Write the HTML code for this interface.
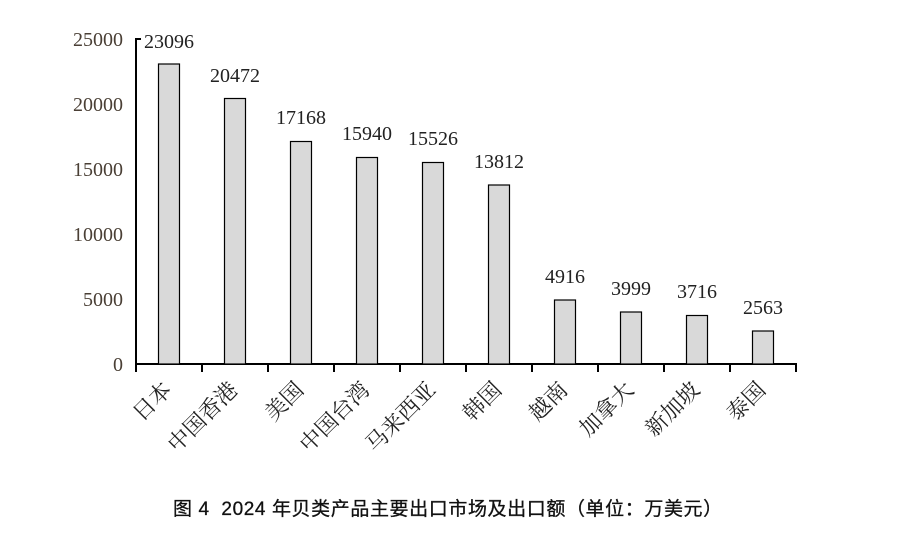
<!DOCTYPE html>
<html><head><meta charset="utf-8"><style>
body{margin:0;background:#fff;width:910px;height:552px;overflow:hidden}
</style></head><body>
<svg width="910" height="552" xmlns="http://www.w3.org/2000/svg">
<g font-family="Liberation Serif, Noto Serif CJK SC, serif" font-size="20" fill="#4a3f35" text-anchor="end">
<text x="123" y="371">0</text>
<text x="123" y="306">5000</text>
<text x="123" y="241">10000</text>
<text x="123" y="176">15000</text>
<text x="123" y="111">20000</text>
<text x="123" y="46">25000</text>
</g>
<g stroke="#000" stroke-width="2" fill="none">
<line x1="136" y1="38" x2="136" y2="372"/>
<line x1="136" y1="364" x2="797" y2="364"/>
<line x1="136" y1="39" x2="141" y2="39"/>
<line x1="202" y1="364" x2="202" y2="372"/><line x1="268" y1="364" x2="268" y2="372"/>
<line x1="334" y1="364" x2="334" y2="372"/><line x1="400" y1="364" x2="400" y2="372"/>
<line x1="466" y1="364" x2="466" y2="372"/><line x1="532" y1="364" x2="532" y2="372"/>
<line x1="598" y1="364" x2="598" y2="372"/><line x1="664" y1="364" x2="664" y2="372"/>
<line x1="730" y1="364" x2="730" y2="372"/><line x1="796" y1="364" x2="796" y2="372"/>
</g>
<g fill="#d9d9d9" stroke="#000" stroke-width="1.2">
<rect x="158.5" y="64" width="21" height="300"/>
<rect x="224.5" y="98.5" width="21" height="265.5"/>
<rect x="290.5" y="141.5" width="21" height="222.5"/>
<rect x="356.5" y="157.5" width="21" height="206.5"/>
<rect x="422.5" y="162.5" width="21" height="201.5"/>
<rect x="488.5" y="185" width="21" height="179"/>
<rect x="554.5" y="300" width="21" height="64"/>
<rect x="620.5" y="312" width="21" height="52"/>
<rect x="686.5" y="315.5" width="21" height="48.5"/>
<rect x="752.5" y="331" width="21" height="33"/>
</g>
<g font-family="Liberation Serif, serif" font-size="20" fill="#222" text-anchor="middle">
<text x="169" y="48">23096</text>
<text x="235" y="82">20472</text>
<text x="301" y="124">17168</text>
<text x="367" y="140">15940</text>
<text x="433" y="145">15526</text>
<text x="499" y="168">13812</text>
<text x="565" y="283">4916</text>
<text x="631" y="295">3999</text>
<text x="697" y="298">3716</text>
<text x="763" y="314">2563</text>
</g>
<g font-family="Noto Serif CJK SC, serif" font-size="22" fill="#222" text-anchor="end">
<text transform="translate(173,391) rotate(-45)">日本</text>
<text transform="translate(239,391) rotate(-45)">中国香港</text>
<text transform="translate(305,391) rotate(-45)">美国</text>
<text transform="translate(371,391) rotate(-45)">中国台湾</text>
<text transform="translate(437,391) rotate(-45)">马来西亚</text>
<text transform="translate(503,391) rotate(-45)">韩国</text>
<text transform="translate(569,391) rotate(-45)">越南</text>
<text transform="translate(635,391) rotate(-45)">加拿大</text>
<text transform="translate(701,391) rotate(-45)">新加坡</text>
<text transform="translate(767,391) rotate(-45)">泰国</text>
</g>
<text x="173" y="515" font-family="Liberation Sans, Noto Sans CJK SC, sans-serif" font-size="19" letter-spacing="0.6" fill="#111" stroke="#111" stroke-width="0.3" xml:space="preserve">图 4  2024 年贝类产品主要出口市场及出口额（单位：万美元）</text>
</svg>
</body></html>
